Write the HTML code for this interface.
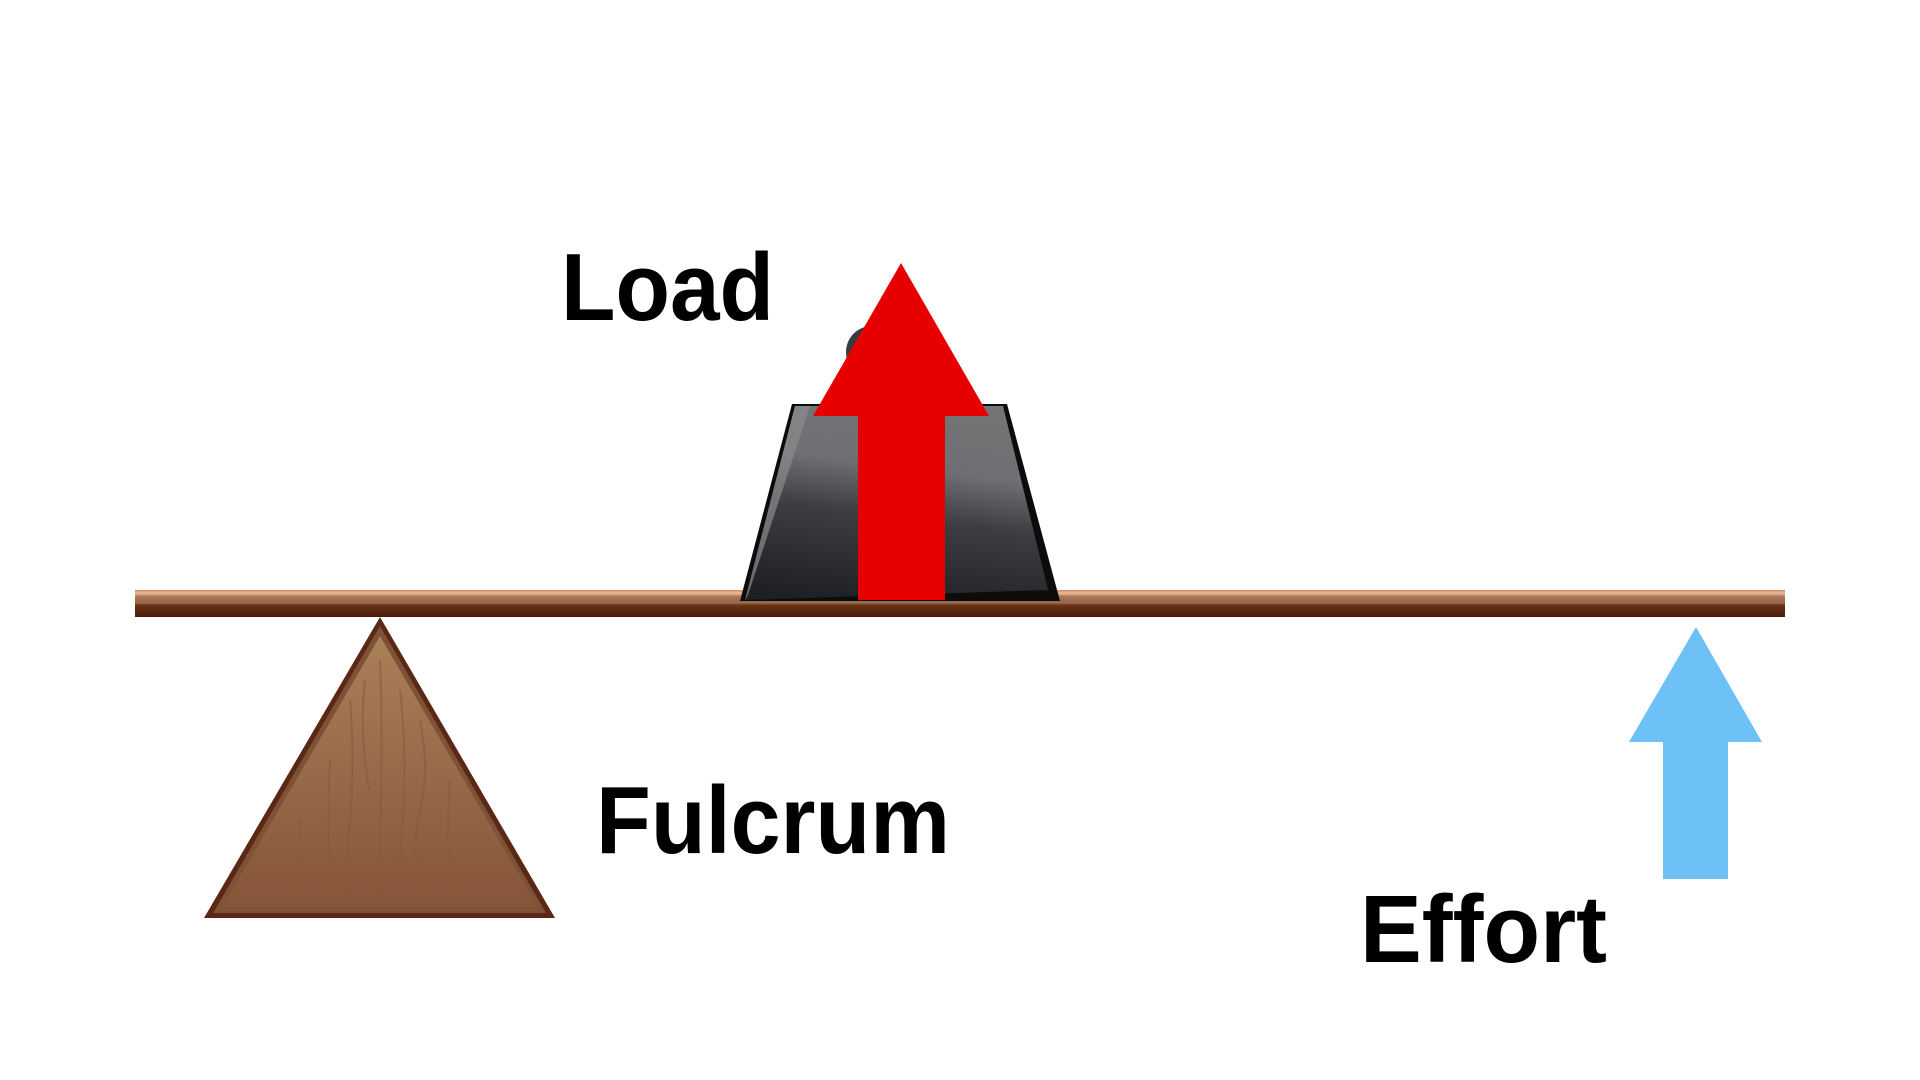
<!DOCTYPE html>
<html><head><meta charset="utf-8"><style>html,body{margin:0;padding:0;background:#fff;}svg{display:block}</style></head>
<body>
<svg width="1920" height="1080" viewBox="0 0 1920 1080" xmlns="http://www.w3.org/2000/svg">
<defs>
<linearGradient id="beam" x1="0" y1="0" x2="0" y2="1">
<stop offset="0" stop-color="#c98a6a"/><stop offset="0.12" stop-color="#f0b896"/><stop offset="0.25" stop-color="#a87555"/><stop offset="0.5" stop-color="#93664a"/><stop offset="0.55" stop-color="#6a3418"/><stop offset="1" stop-color="#4a1a0a"/>
</linearGradient>
<linearGradient id="wood" x1="0" y1="0" x2="0" y2="1">
<stop offset="0" stop-color="#a98058"/><stop offset="1" stop-color="#87553a"/>
</linearGradient>
<linearGradient id="metal" x1="0.3" y1="1" x2="0.5" y2="0">
<stop offset="0" stop-color="#1f2023"/><stop offset="0.45" stop-color="#3c3e42"/><stop offset="0.7" stop-color="#6e6f72"/><stop offset="1" stop-color="#737476"/>
</linearGradient>
</defs>
<!-- beam -->
<rect x="135" y="590" width="1650" height="27" fill="url(#beam)"/>
<!-- knob -->
<circle cx="872" cy="352" r="26" fill="#3a3b3e"/>
<!-- weight -->
<polygon points="792,404 1007,404 1060,601 740,601" fill="#0c0c0d"/>
<polygon points="795,406 1003,406 1048,590 745,600" fill="url(#metal)"/>
<polygon points="795,406 810,406 748,595 745,600" fill="#8a8b8d" opacity="0.7"/>
<!-- fulcrum -->
<polygon points="380,617 555,918 204,918" fill="#5a2814"/>
<polygon points="380,626 546,913 213,913" fill="#7d5236"/>
<polygon points="380,636 538,907 222,907" fill="url(#wood)"/>
<g stroke="#8a5a3a" stroke-width="2" fill="none" opacity="0.6">
<path d="M350,700 q5,60 0,120 t2,80"/><path d="M365,680 q-6,50 4,110"/><path d="M400,690 q8,70 2,140 t3,70"/><path d="M420,720 q10,50 0,90 t5,90"/><path d="M330,760 q-4,60 2,140"/><path d="M300,820 q4,40 0,80"/><path d="M450,780 q-5,60 3,120"/><path d="M380,660 q4,90 -2,240"/>
</g>
<!-- red arrow -->
<polygon points="901,263 989,416 945,416 945,600 858,600 858,416 813,416" fill="#e60000"/>
<!-- blue arrow -->
<polygon points="1696,627 1762,742 1728,742 1728,879 1663,879 1663,742 1629,742" fill="#6ec1f7"/>
<!-- labels -->
<g font-family="Liberation Sans, sans-serif" font-weight="bold" font-size="96" fill="#000">
<text x="561" y="320" textLength="213" lengthAdjust="spacingAndGlyphs">Load</text>
<text x="596" y="853" textLength="354" lengthAdjust="spacingAndGlyphs">Fulcrum</text>
<text x="1360" y="962" textLength="247" lengthAdjust="spacingAndGlyphs">Effort</text>
</g>
</svg>
</body></html>
